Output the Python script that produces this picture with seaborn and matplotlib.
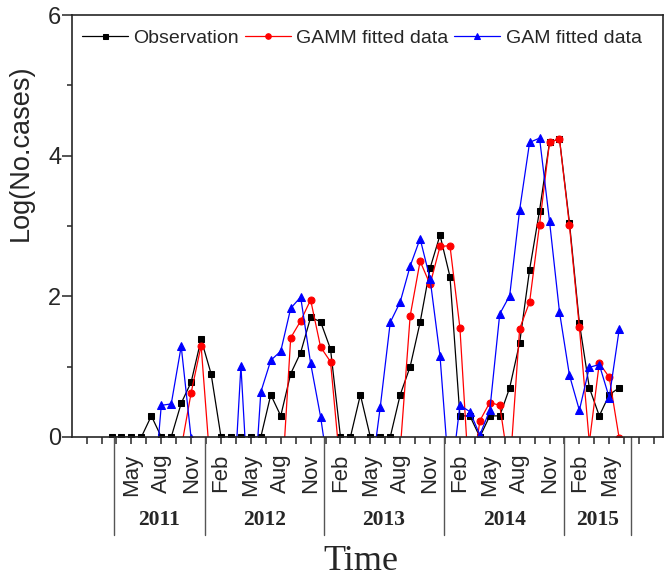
import numpy as np
import pandas as pd
import matplotlib
matplotlib.use("Agg")
import matplotlib.pyplot as plt
import seaborn as sns

# monthly series, Mar 2011 .. Jun 2015 (index 0..51)
month_idx = np.arange(52)
observation = [0, 0, 0, 0, 0.30, 0, 0, 0.48, 0.78, 1.39, 0.90, 0,
               0, 0, 0, 0, 0.60, 0.30, 0.90, 1.20, 1.70, 1.64, 1.25, 0,
               0, 0.60, 0, 0, 0, 0.60, 1.00, 1.63, 2.40, 2.87, 2.28, 0.30,
               0.30, 0, 0.30, 0.30, 0.70, 1.34, 2.38, 3.22, 4.19, 4.24, 3.05, 1.62,
               0.70, 0.30, 0.60, 0.70]
gamm_fit = [-0.8, -0.9, -1.0, -0.9, -0.7, -0.6, -0.5, -0.16, 0.63, 1.30, -0.56, -0.8,
            -0.9, -1.0, -1.0, -1.1, -1.0, -0.94, 1.41, 1.65, 1.95, 1.28, 1.07, -0.46,
            -0.6, -0.7, -0.7, -0.6, -0.5, -0.19, 1.72, 2.50, 2.17, 2.71, 2.72, 1.55,
            -0.8, 0.23, 0.49, 0.45, -0.5, 1.54, 1.92, 3.02, 4.19, 4.24, 3.01, 1.56,
            -0.08, 1.05, 0.85, -0.02]
gam_fit = [-1.2, -1.2, -1.3, -1.3, -1.2, 0.45, 0.47, 1.29, -0.02, -1.0, -1.3, -1.5,
           -1.5, 1.01, -1.5, 0.64, 1.09, 1.22, 1.83, 1.99, 1.05, 0.29, -0.68, -0.8,
           -0.8, -0.7, -0.65, 0.43, 1.63, 1.92, 2.43, 2.82, 2.25, 1.15, -0.72, 0.45,
           0.36, 0.03, 0.38, 1.75, 2.01, 3.23, 4.19, 4.25, 3.07, 1.78, 0.88, 0.38,
           0.99, 1.03, 0.56, 1.53]

tick_labels = ["May", "Aug", "Nov",
               "Feb", "May", "Aug", "Nov",
               "Feb", "May", "Aug", "Nov",
               "Feb", "May", "Aug", "Nov",
               "Feb", "May"]
year_labels = ["2011", "2012", "2013", "2014", "2015"]
year_edges = [0.23, 9.4, 21.3, 33.4, 45.5, 52.2]

df = pd.DataFrame({"month": month_idx, "Observation": observation,
                   "GAMM": gamm_fit, "GAM": gam_fit})

sns.set_style("ticks")
plt.rcParams["font.family"] = ["Liberation Sans", "DejaVu Sans"]

fig = plt.figure(figsize=(6.72, 5.8), dpi=100)
ax = fig.add_axes([0.1067, 0.2466, 0.8799, 0.7274])

sns.lineplot(data=df, x="month", y="Observation", ax=ax, color="black", lw=0.9,
             marker="s", markersize=4.5, markeredgecolor="black", label="Observation")
sns.lineplot(data=df, x="month", y="GAMM", ax=ax, color="red", lw=0.9,
             marker="o", markersize=5, markeredgecolor="red", label="GAMM fitted data")
sns.lineplot(data=df, x="month", y="GAM", ax=ax, color="blue", lw=0.9,
             marker="^", markersize=5.5, markeredgecolor="blue", label="GAM fitted data")

ax.set_xlim(-4.0, 55.4)
ax.set_ylim(0, 6)
ax.set_yticks([0, 2, 4, 6])
ax.set_yticks([1, 3, 5], minor=True)
ax.set_xticks(np.arange(2, 51, 3))
ax.set_xticklabels(tick_labels, rotation=90, fontsize=16)
ax.set_xticks(np.arange(-2.5, 55, 1.5), minor=True)
ax.tick_params(axis="y", which="major", length=7, width=1.1, labelsize=17, pad=0.5)
ax.tick_params(axis="y", which="minor", length=3.5, width=1.1)
ax.tick_params(axis="x", which="both", length=5, width=1.1, pad=7)
for s in ax.spines.values():
    s.set_linewidth(1.2)
    s.set_visible(True)

# year group separators and labels under the axis
tr = ax.get_xaxis_transform()
for e in year_edges:
    ax.plot([e, e], [0, -0.232], transform=tr, color="#555555", lw=1.0, clip_on=False)
for k, yl in enumerate(year_labels):
    ax.text((year_edges[k] + year_edges[k + 1]) / 2, -0.197, yl, transform=tr,
            ha="center", va="center", fontsize=15.5, fontweight="bold",
            family="Liberation Serif")

ax.set_xlabel("")
ax.set_ylabel("Log(No.cases)", fontsize=19.5)
ax.yaxis.set_label_coords(-0.064, 0.673)
fig.text(361 / 672, 1 - 562 / 580, "Time", ha="center", va="center",
         fontsize=26, family="Liberation Serif")

ax.legend(ncol=3, frameon=False, loc="center left", bbox_to_anchor=(0.017, 0.946),
          borderaxespad=0, borderpad=0, handlelength=2.37, handletextpad=0.28,
          columnspacing=0.3, fontsize=14, markerscale=0.8)

fig.savefig("out.png", dpi=100)
